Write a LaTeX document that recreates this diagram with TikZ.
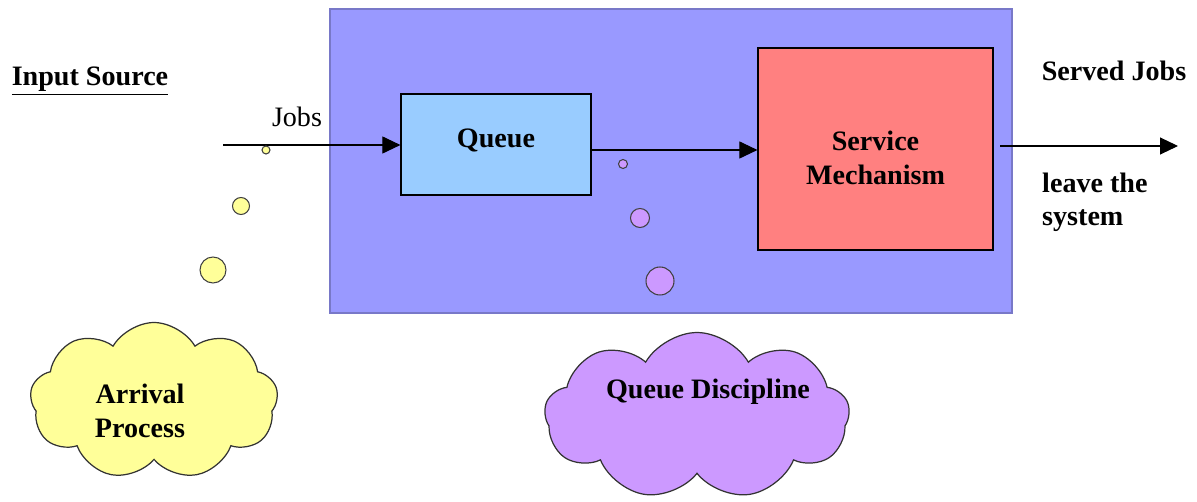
\documentclass[tikz,border=0pt]{standalone}
\usepackage{fontspec}
\setmainfont{Liberation Serif}
\usepackage{tikz}
\usetikzlibrary{arrows.meta,positioning,calc,shapes.symbols}
\definecolor{sysblue}{RGB}{153,153,255}
\definecolor{sysedge}{RGB}{120,120,200}
\definecolor{queueblue}{RGB}{153,204,255}
\definecolor{servred}{RGB}{255,128,128}
\definecolor{jobyellow}{RGB}{255,255,153}
\definecolor{discpurple}{RGB}{204,153,255}
\tikzset{
  sysbox/.style={
    draw=sysedge,
    fill=sysblue,
    line width=1.6pt,
    minimum width=13.64cm,
    minimum height=6.08cm
  },
  block/.style={
    draw=black,
    line width=0.7pt,
    align=center,
    font=\fontsize{16}{19}\selectfont\bfseries
  },
  job/.style={
    circle,
    draw=black!75,
    line width=0.6pt,
    inner sep=0pt
  },
  puff/.style={
    cloud,
    cloud puffs=9,
    cloud puff arc=120,
    draw=black!80,
    line width=0.7pt,
    inner sep=0pt
  },
  txt/.style={
    align=left,
    font=\fontsize{16}{19}\selectfont\bfseries
  },
  arr/.style={-{Triangle[length=0.36cm,width=0.34cm]},line width=0.6pt}
}

\begin{document}
\begin{tikzpicture}[x=0.02cm,y=-0.02cm]
  \useasboundingbox (0,0) rectangle (1197,502);

  % system frame
  \node[sysbox] (sys) at (671,161) {};

  % queue and server
  \node[block,fill=queueblue,minimum width=3.8cm,minimum height=2.02cm] (queue) at (496,144.5) {\raisebox{0.25cm}{Queue}};
  \node[block,fill=servred,minimum width=4.7cm,minimum height=4.04cm,
        label={[txt,align=center,yshift=-0.18cm]center:Service\\Mechanism}] (serv) at (875.5,149) {};

  % arriving and departing jobs
  \coordinate (src) at (223,145);
  \coordinate (sink) at (1178,146);
  \coordinate (out) at (1000,146);
  \draw[arr] (src) -- (src -| queue.west);
  \draw[arr] ([yshift=-0.11cm]queue.east) -- ([yshift=-0.11cm]queue.east -| serv.west);
  \draw[arr] (out) -- (sink);

  % labels
  \node[txt] (insrc) at (90,81) {\underline{Input Source}};
  \node[font=\fontsize{16}{19}\selectfont] (jobs) at (297,117) {Jobs};
  \node[txt] (served) at (1114,71) {Served Jobs};
  \node[txt,anchor=west] (leave) at (1036,202) {leave the\\system};

  % arrival bubbles
  \node[job,fill=jobyellow,minimum size=0.16cm] (y1) at (266,150) {};
  \node[job,fill=jobyellow,minimum size=0.34cm] (y2) at (241,206) {};
  \node[job,fill=jobyellow,minimum size=0.52cm] (y3) at (213,270) {};

  % waiting bubbles
  \node[job,fill=discpurple,minimum size=0.18cm] (p1) at (623,164) {};
  \node[job,fill=discpurple,minimum size=0.38cm] (p2) at (640,218) {};
  \node[job,fill=discpurple,minimum size=0.56cm] (p3) at (660,281) {};

  % clouds
  \node[puff,fill=jobyellow,minimum width=4.96cm,minimum height=3.14cm] (arrcloud) at (154,401) {};
  \node[txt,align=center] (arrtxt) at (140,411) {Arrival\\Process};
  \node[puff,fill=discpurple,minimum width=6.1cm,minimum height=3.34cm] (disccloud) at (697,416) {};
  \node[txt] (disctxt) at (708,392) {Queue Discipline};
\end{tikzpicture}
\end{document}
